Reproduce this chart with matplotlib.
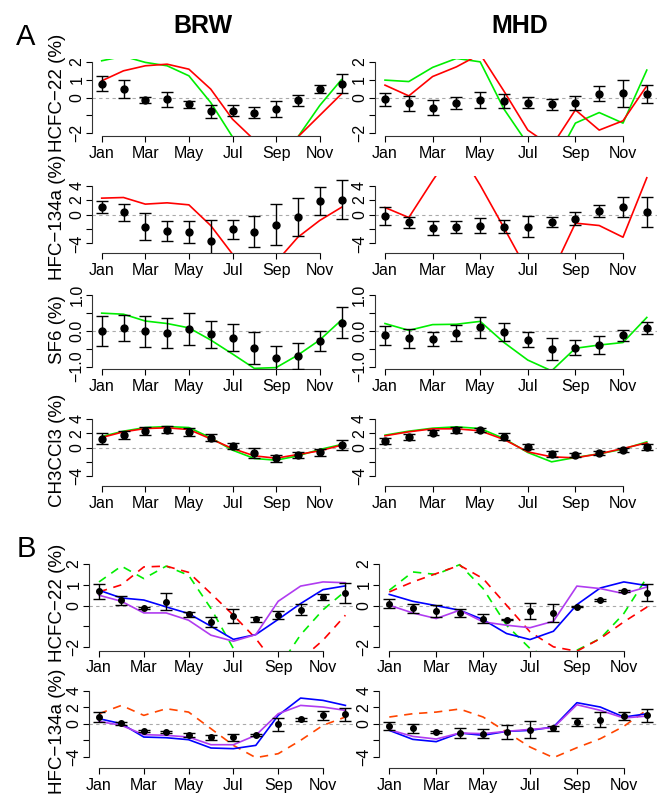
import matplotlib.pyplot as plt
import numpy as np

plt.rcParams['font.family'] = ['Liberation Sans', 'DejaVu Sans']

months = np.arange(1, 13)
month_ticks = [1, 3, 5, 7, 9, 11]
month_labels = ['Jan', 'Mar', 'May', 'Jul', 'Sep', 'Nov']

# ---- Panel A: observed monthly anomaly (mean, half error bar) and model lines ----
brw_hcfc22_obs = [0.78, 0.47, -0.15, -0.11, -0.37, -0.78, -0.74, -0.84, -0.65, -0.15, 0.47, 0.78]
brw_hcfc22_err = [0.40, 0.50, 0.16, 0.41, 0.20, 0.35, 0.32, 0.33, 0.43, 0.31, 0.22, 0.55]
brw_hcfc22_green = [2.05, 2.3, 1.96, 1.77, 1.21, -0.28, -2.2, -3.5, -3.5, -2.2, -0.45, 1.0]
brw_hcfc22_red = [0.93, 1.49, 1.77, 1.86, 1.58, 0.47, -1.21, -2.37, -3.5, -2.2, -1.0, 0.2]

mhd_hcfc22_obs = [-0.09, -0.32, -0.56, -0.3, -0.15, -0.19, -0.28, -0.39, -0.28, 0.22, 0.24, 0.2]
mhd_hcfc22_err = [0.36, 0.42, 0.43, 0.32, 0.43, 0.39, 0.31, 0.30, 0.39, 0.42, 0.75, 0.49]
mhd_hcfc22_green = [0.97, 0.89, 1.68, 2.18, 1.99, -0.65, -2.6, -3.9, -1.43, -0.84, -1.43, 1.53]
mhd_hcfc22_red = [0.69, 0.09, 1.17, 1.71, 2.42, 0.35, -1.82, -2.73, -0.69, -1.82, -1.3, 0.65]

brw_hfc134a_obs = [1.06, 0.32, -1.67, -2.31, -2.45, -3.61, -2.08, -2.36, -1.39, -0.37, 1.85, 2.04]
brw_hfc134a_err = [0.88, 1.2, 1.83, 1.43, 1.52, 2.87, 1.35, 2.13, 2.87, 2.68, 1.97, 2.7]
brw_hfc134a_red = [2.27, 2.36, 1.44, 1.62, 1.34, -1.53, -5.5, -7.0, -6.6, -3.15, -0.83, 1.0]

mhd_hfc134a_obs = [-0.19, -1.11, -1.85, -1.71, -1.53, -1.67, -1.71, -1.06, -0.56, 0.51, 1.06, 0.37]
mhd_hfc134a_err = [1.3, 0.77, 1.0, 0.79, 1.04, 0.93, 1.48, 0.74, 0.86, 0.83, 1.42, 2.04]
mhd_hfc134a_red = [0.97, -0.42, 4.7, 9.5, 4.07, -1.85, -7.9, -8.2, -1.2, -1.53, -3.15, 5.1]

brw_sf6_obs = [-0.01, 0.08, -0.02, -0.06, 0.05, -0.1, -0.19, -0.49, -0.77, -0.71, -0.28, 0.22]
brw_sf6_err = [0.42, 0.37, 0.44, 0.42, 0.45, 0.38, 0.39, 0.44, 0.34, 0.36, 0.28, 0.43]
brw_sf6_green = [0.49, 0.46, 0.27, 0.2, 0.08, -0.26, -0.65, -1.05, -1.03, -0.68, -0.26, 0.3]

mhd_sf6_obs = [-0.13, -0.21, -0.23, -0.07, 0.09, -0.04, -0.25, -0.51, -0.47, -0.4, -0.13, 0.08]
mhd_sf6_err = [0.27, 0.27, 0.2, 0.22, 0.29, 0.26, 0.21, 0.32, 0.22, 0.25, 0.16, 0.16]
mhd_sf6_green = [0.2, 0.01, 0.17, 0.18, 0.26, -0.33, -0.82, -1.12, -0.49, -0.4, -0.33, 0.37]

brw_ch3ccl3_obs = [1.26, 1.78, 2.29, 2.52, 2.2, 1.4, 0.23, -0.79, -1.54, -1.07, -0.7, 0.33]
brw_ch3ccl3_err = [0.82, 0.52, 0.56, 0.54, 0.6, 0.47, 0.47, 0.7, 0.54, 0.4, 0.45, 0.72]
brw_ch3ccl3_green = [1.54, 2.29, 2.8, 2.94, 2.8, 1.36, -0.37, -1.54, -1.78, -1.17, -0.28, 0.42]
brw_ch3ccl3_red = [1.4, 2.2, 2.66, 2.76, 2.52, 1.21, -0.14, -1.17, -1.5, -0.98, -0.47, 0.33]

mhd_ch3ccl3_obs = [0.93, 1.5, 2.1, 2.48, 2.48, 1.54, 0.09, -0.93, -1.07, -0.79, -0.37, 0.09]
mhd_ch3ccl3_err = [0.38, 0.4, 0.38, 0.38, 0.24, 0.5, 0.35, 0.43, 0.3, 0.26, 0.26, 0.42]
mhd_ch3ccl3_green = [1.73, 2.29, 2.71, 2.9, 2.66, 1.26, -0.7, -2.01, -1.4, -0.89, -0.23, 0.79]
mhd_ch3ccl3_red = [1.64, 2.2, 2.62, 2.62, 2.34, 1.12, -0.61, -1.31, -1.45, -0.89, -0.14, 0.65]

# ---- Panel B ----
b_brw_hcfc22_obs = [0.69, 0.26, -0.1, 0.18, -0.42, -0.78, -0.5, -0.66, -0.46, -0.19, 0.4, 0.62]
b_brw_hcfc22_err = [0.36, 0.22, 0.04, 0.41, 0.12, 0.24, 0.32, 0.12, 0.2, 0.27, 0.14, 0.48]
b_brw_hcfc22_blue = [0.74, 0.37, 0.27, -0.06, -0.38, -0.99, -1.62, -1.39, -0.66, 0.1, 0.77, 0.95]
b_brw_hcfc22_purple = [0.5, 0.21, -0.35, -0.35, -0.7, -1.42, -1.71, -1.39, 0.21, 0.94, 1.14, 1.1]
b_brw_hcfc22_green = [1.14, 1.9, 1.3, 1.9, 1.46, -0.14, -2.06, -3.0, -3.0, -1.4, -0.2, 0.7]
b_brw_hcfc22_red = [0.66, 1.0, 1.86, 1.9, 1.6, 0.58, -0.46, -1.58, -3.0, -2.6, -1.66, -0.46]

b_mhd_hcfc22_obs = [0.1, -0.13, -0.27, -0.34, -0.62, -0.67, -0.27, -0.34, -0.05, 0.27, 0.69, 0.62]
b_mhd_hcfc22_err = [0.22, 0.22, 0.28, 0.2, 0.2, 0.03, 0.38, 0.43, 0.03, 0.03, 0.05, 0.42]
b_mhd_hcfc22_blue = [0.54, 0.21, 0.0, -0.22, -0.67, -1.34, -1.63, -1.23, 0.05, 0.85, 1.14, 0.96]
b_mhd_hcfc22_purple = [0.02, -0.35, -0.62, -0.22, -0.78, -0.94, -1.06, -0.75, 0.94, 0.82, 0.58, 0.9]
b_mhd_hcfc22_green = [0.74, 1.62, 1.5, 1.97, 0.82, -0.94, -2.06, -2.6, -2.14, -1.58, -0.38, 1.38]
b_mhd_hcfc22_red = [0.66, 1.14, 1.54, 1.94, 1.3, 0.02, -1.26, -1.98, -2.19, -1.58, -0.78, -0.06]

b_brw_hfc134a_obs = [0.81, 0.04, -0.89, -0.97, -1.33, -1.66, -1.66, -1.37, -0.08, 0.53, 1.01, 1.13]
b_brw_hfc134a_err = [0.6, 0.16, 0.16, 0.12, 0.25, 0.29, 0.45, 0.17, 0.81, 0.17, 0.53, 0.77]
b_brw_hfc134a_blue = [0.61, 0.0, -1.62, -1.7, -1.94, -2.95, -3.03, -2.63, 1.01, 3.11, 2.83, 2.22]
b_brw_hfc134a_purple = [0.28, -0.2, -1.33, -1.41, -1.62, -2.55, -2.55, -1.41, 1.21, 2.22, 2.02, 1.62]
b_brw_hfc134a_orange = [1.21, 2.22, 1.01, 1.82, 1.41, -0.61, -2.63, -4.12, -3.64, -2.02, -0.2, 0.81]

b_mhd_hfc134a_obs = [-0.32, -0.57, -1.05, -1.13, -1.21, -1.01, -0.73, -0.57, 0.2, 0.48, 0.89, 1.01]
b_mhd_hfc134a_err = [0.5, 0.55, 0.12, 0.55, 0.55, 0.85, 1.05, 0.35, 0.53, 0.9, 0.5, 0.77]
b_mhd_hfc134a_blue = [-0.81, -1.9, -2.18, -1.13, -1.41, -0.93, -0.81, -0.4, 2.55, 2.02, 0.81, 1.21]
b_mhd_hfc134a_purple = [-0.73, -1.54, -1.86, -1.13, -1.21, -0.93, -0.69, -0.48, 2.3, 1.62, 0.69, 0.93]
b_mhd_hfc134a_orange = [0.81, 1.21, 1.41, 1.78, 0.81, -1.01, -2.83, -4.12, -2.91, -1.82, -0.32, 1.7]

GREEN = '#00ee00'
RED = '#ff0000'
BLUE = '#0000ff'
PURPLE = '#b03cf0'
ORANGE = '#ff4500'
DASH = (0, (5, 4))

W, H = 666, 795
fig = plt.figure(figsize=(W / 100, H / 100), dpi=100)


def panel(jan, step, ytop, ybot, ylim, yticks, ylabels, obs, err, lines, ms=5):
    # axes placed in pixel units so the x range is 0.56..12.44 (R style 4% padding)
    left = jan - 0.44 * step
    width = 11.88 * step
    ax = fig.add_axes([left / W, 1 - ybot / H, width / W, (ybot - ytop) / H])
    pad = (ylim[1] - ylim[0]) * 0.04
    ax.set_xlim(0.56, 12.44)
    ax.set_ylim(ylim[0] - pad, ylim[1] + pad)
    ax.axhline(0, color='#aaaaaa', lw=0.8, ls=(0, (3, 3)), zorder=1)
    for vals, color, ls in lines:
        ax.plot(months, vals, color=color, lw=1.2, ls=ls, zorder=2)
    ax.errorbar(months, obs, yerr=err, fmt='o', color='black', ms=ms,
                capsize=4, elinewidth=1, capthick=1, zorder=3)
    for s in ['top', 'right']:
        ax.spines[s].set_visible(False)
    ax.spines['left'].set_bounds(yticks[0], yticks[-1])
    ax.spines['bottom'].set_bounds(1, 11)
    ax.spines['left'].set_color('#333333')
    ax.spines['bottom'].set_color('#333333')
    ax.set_xticks(month_ticks)
    ax.set_xticklabels(month_labels)
    ax.set_yticks(yticks)
    ax.set_yticklabels(ylabels, rotation=90, va='center')
    ax.tick_params(axis='x', length=4, pad=3, labelsize=11.5)
    ax.tick_params(axis='y', length=4, pad=1.5, labelsize=11.5)
    ax.patch.set_alpha(0)
    return ax


def ylab(text, ycenter):
    fig.text(58 / W, 1 - ycenter / H, text, rotation=90,
             ha='center', va='center', fontsize=13.5)


# row geometry: (ytop, ybot) in pixels
rowA = [(58.8, 136.2), (175.6, 253.4), (292.0, 369.4), (409.0, 486.0)]
rowB = [(560.7, 650.6), (679.2, 768.2)]
LA = (101.7, 21.8)
RA = (385.0, 23.8)
LB = (99.0, 22.4)
RB = (389.3, 23.45)

t22 = ([-2, -1, 0, 1, 2], ['\u22122', '', '0', '1', '2'])
t134 = ([-4, -2, 0, 2, 4], ['\u22124', '', '0', '2', '4'])
tsf6 = ([-1, -0.5, 0, 0.5, 1], ['\u22121.0', '', '0.0', '', '1.0'])

panel(*LA, *rowA[0], (-2, 2), *t22, brw_hcfc22_obs, brw_hcfc22_err,
      [(brw_hcfc22_green, GREEN, '-'), (brw_hcfc22_red, RED, '-')])
panel(*RA, *rowA[0], (-2, 2), *t22, mhd_hcfc22_obs, mhd_hcfc22_err,
      [(mhd_hcfc22_green, GREEN, '-'), (mhd_hcfc22_red, RED, '-')])
panel(*LA, *rowA[1], (-5, 5), *t134, brw_hfc134a_obs, brw_hfc134a_err,
      [(brw_hfc134a_red, RED, '-')])
panel(*RA, *rowA[1], (-5, 5), *t134, mhd_hfc134a_obs, mhd_hfc134a_err,
      [(mhd_hfc134a_red, RED, '-')])
panel(*LA, *rowA[2], (-1, 1), *tsf6, brw_sf6_obs, brw_sf6_err,
      [(brw_sf6_green, GREEN, '-')])
panel(*RA, *rowA[2], (-1, 1), *tsf6, mhd_sf6_obs, mhd_sf6_err,
      [(mhd_sf6_green, GREEN, '-')])
panel(*LA, *rowA[3], (-5, 5), *t134, brw_ch3ccl3_obs, brw_ch3ccl3_err,
      [(brw_ch3ccl3_green, GREEN, '-'), (brw_ch3ccl3_red, RED, '-')])
panel(*RA, *rowA[3], (-5, 5), *t134, mhd_ch3ccl3_obs, mhd_ch3ccl3_err,
      [(mhd_ch3ccl3_green, GREEN, '-'), (mhd_ch3ccl3_red, RED, '-')])

panel(*LB, *rowB[0], (-2, 2), *t22, b_brw_hcfc22_obs, b_brw_hcfc22_err,
      [(b_brw_hcfc22_green, GREEN, DASH), (b_brw_hcfc22_red, RED, DASH),
       (b_brw_hcfc22_blue, BLUE, '-'), (b_brw_hcfc22_purple, PURPLE, '-')], ms=4)
panel(*RB, *rowB[0], (-2, 2), *t22, b_mhd_hcfc22_obs, b_mhd_hcfc22_err,
      [(b_mhd_hcfc22_green, GREEN, DASH), (b_mhd_hcfc22_red, RED, DASH),
       (b_mhd_hcfc22_blue, BLUE, '-'), (b_mhd_hcfc22_purple, PURPLE, '-')], ms=4)
panel(*LB, *rowB[1], (-5, 5), *t134, b_brw_hfc134a_obs, b_brw_hfc134a_err,
      [(b_brw_hfc134a_orange, ORANGE, DASH),
       (b_brw_hfc134a_blue, BLUE, '-'), (b_brw_hfc134a_purple, PURPLE, '-')], ms=4)
panel(*RB, *rowB[1], (-5, 5), *t134, b_mhd_hfc134a_obs, b_mhd_hfc134a_err,
      [(b_mhd_hfc134a_orange, ORANGE, DASH),
       (b_mhd_hfc134a_blue, BLUE, '-'), (b_mhd_hfc134a_purple, PURPLE, '-')], ms=4)

ylab('HCFC\u221222 (%)', 93)
ylab('HFC\u2212134a (%)', 217)
ylab('SF6 (%)', 330)
ylab('CH3CCl3 (%)', 450)
ylab('HCFC\u221222 (%)', 603)
ylab('HFC\u2212134a (%)', 731)

fig.text(203 / W, 1 - 26 / H, 'BRW', ha='center', va='center', fontsize=18, weight='bold')
fig.text(520 / W, 1 - 26 / H, 'MHD', ha='center', va='center', fontsize=18, weight='bold')
fig.text(26 / W, 1 - 37 / H, 'A', ha='center', va='center', fontsize=21)
fig.text(26 / W, 1 - 549 / H, 'B', ha='center', va='center', fontsize=21)

fig.savefig('out.png', dpi=100)
